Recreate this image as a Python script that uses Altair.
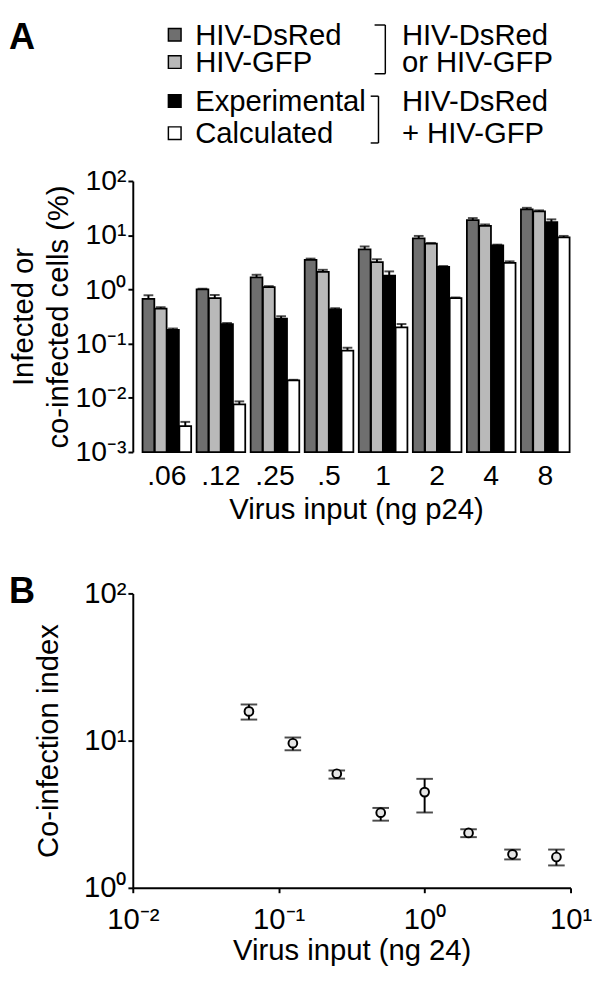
import altair as alt
import pandas as pd

FONT = "Liberation Sans"

# ---------------- Panel A data ----------------
doses = [".06", ".12", ".25", ".5", "1", "2", "4", "8"]
series = ["HIV-DsRed", "HIV-GFP", "Experimental", "Calculated"]
colors = ["#6f6f6f", "#b9b9b9", "#000000", "#ffffff"]

dsred = [0.67, 1.0, 1.66, 3.5, 5.5, 8.7, 19.0, 30.0]
gfp = [0.44, 0.69, 1.1, 2.1, 3.2, 7.0, 14.8, 27.6]
experimental = [0.18, 0.23, 0.29, 0.43, 1.8, 2.6, 6.5, 17.5]
calculated = [0.003, 0.0076, 0.021, 0.074, 0.20, 0.69, 3.1, 9.1]

dsred_hi = [0.78, 1.03, 1.86, 3.7, 6.2, 9.7, 20.7, 32.0]
gfp_hi = [0.47, 0.79, 1.15, 2.3, 3.6, 7.2, 15.8, 28.7]
experimental_hi = [0.19, 0.24, 0.32, 0.45, 2.15, 2.7, 6.7, 19.6]
calculated_hi = [0.0036, 0.0086, 0.0215, 0.084, 0.23, 0.71, 3.3, 9.7]

group_labels = [["HIV-DsRed", "or HIV-GFP"], ["HIV-DsRed", "+ HIV-GFP"]]

# ---------------- Panel B data ----------------
virus_input = [0.0625, 0.125, 0.25, 0.5, 1, 2, 4, 8]
coinf_index = [15.8, 9.6, 5.96, 3.24, 4.47, 2.36, 1.69, 1.62]
coinf_hi = [17.6, 10.5, 6.27, 3.49, 5.5, 2.5, 1.82, 1.82]
coinf_lo = [13.9, 8.6, 5.52, 2.86, 3.25, 2.21, 1.56, 1.42]

# ---------------- build tables ----------------
rows = []
for vals, his, name in zip([dsred, gfp, experimental, calculated],
                           [dsred_hi, gfp_hi, experimental_hi, calculated_hi], series):
    for d, v, h in zip(doses, vals, his):
        rows.append({"dose": d, "series": name, "value": v, "upper": h})
dfA = pd.DataFrame(rows)
dfB = pd.DataFrame({"x": virus_input, "y": coinf_index, "hi": coinf_hi, "lo": coinf_lo})

WA, HA = 458, 278
WB, HB = 449, 302

color_scale = alt.Scale(domain=series, range=colors)
sup = ("datum.value < 0.005 ? '10⁻³' : datum.value < 0.05 ? '10⁻²' : datum.value < 0.5 ? '10⁻¹' : "
       "datum.value < 5 ? '10⁰' : datum.value < 50 ? '10¹' : '10²'")

yA_scale = alt.Scale(type="log", domain=[0.001, 100])
xA = alt.X("dose:N", sort=doses,
           scale=alt.Scale(paddingInner=0.1, paddingOuter=0.18),
           axis=alt.Axis(title="Virus input (ng p24)", labelAngle=0, domain=False, ticks=False,
                         labelPadding=10, labelFontSize=29, titleY=44.5, titleBaseline="top"))
xoff = alt.XOffset("series:N", sort=series, scale=alt.Scale(paddingInner=0.04))
yA = alt.Y("value:Q", scale=yA_scale,
           axis=alt.Axis(values=[0.001, 0.01, 0.1, 1, 10, 100], labelExpr=sup,
                         title=["Infected or", "co-infected cells (%)"],
                         titleX=-103, titleY=HA / 2, titleAngle=-90, titleAlign="center",
                         titleBaseline="alphabetic", titleLineHeight=36,
                         tickSize=5, labelPadding=2, labelFontSize=29))

base = alt.Chart(dfA)
bars = base.mark_bar(stroke="black", strokeWidth=1.8).encode(
    x=xA, xOffset=xoff, y=yA, y2=alt.datum(0.001),
    fill=alt.Fill("series:N", scale=color_scale, legend=None))
stems = base.mark_rule(color="black", strokeWidth=2).encode(
    x=xA, xOffset=xoff, y=yA, y2="upper:Q")
caps = base.mark_tick(orient="horizontal", size=10, thickness=2, color="black").encode(
    x=xA, xOffset=xoff, y=alt.Y("upper:Q", scale=yA_scale))

# ---- custom legend (pixel positions relative to plot A origin) ----
one = pd.DataFrame({"k": [0]})
text_y = [-164, -136, -96, -63]
square_y = [-150, -122, -82, -49]
legend_layers = []
for name, ty, sy in zip(series, text_y, square_y):
    d = pd.DataFrame({"series": [name]})
    legend_layers.append(alt.Chart(d).mark_square(size=169, stroke="black", strokeWidth=1.5, opacity=1).encode(
        x=alt.value(43), y=alt.value(sy),
        fill=alt.Fill("series:N", scale=color_scale, legend=None)))
    legend_layers.append(alt.Chart(d).mark_text(align="left", baseline="top", fontSize=30,
                                                font=FONT, color="black").encode(
        x=alt.value(64), y=alt.value(ty), text="series:N"))

brackets = [(259, 248, -160, -110), (252, 244, -87, -39)]
for (bx, bx0, by0, by1), lines, (ya, yb) in zip(brackets, group_labels,
                                                [(text_y[0], text_y[1]), (text_y[2], text_y[3])]):
    legend_layers.append(alt.Chart(one).mark_rule(color="black", strokeWidth=1.5).encode(
        x=alt.value(bx), y=alt.value(by0), y2=alt.value(by1)))
    for yy in (by0, by1):
        legend_layers.append(alt.Chart(one).mark_rule(color="black", strokeWidth=1.5).encode(
            x=alt.value(bx0), x2=alt.value(bx), y=alt.value(yy)))
    for txt, yy in zip(lines, (ya, yb)):
        legend_layers.append(alt.Chart(one).mark_text(align="left", baseline="top", fontSize=30,
                                                      font=FONT, color="black", text=txt).encode(
            x=alt.value(276), y=alt.value(yy)))

letterA = alt.Chart(one).mark_text(align="left", baseline="top", fontSize=37, fontWeight="bold",
                                   font=FONT, color="black", text="A").encode(
    x=alt.value(-127), y=alt.value(-164))

panelA = alt.layer(bars, stems, caps, letterA, *legend_layers).properties(width=WA, height=HA)

# ---------------- Panel B ----------------
xB_scale = alt.Scale(type="log", domain=[0.01, 10])
yB_scale = alt.Scale(type="log", domain=[1, 100])
xB_axis = alt.Axis(values=[0.01, 0.1, 1, 10], labelExpr=
                   "datum.value < 0.05 ? '10⁻²' : datum.value < 0.5 ? '10⁻¹' : datum.value < 5 ? '10⁰' : '10¹'",
                   title="Virus input (ng 24)", tickSize=5, labelPadding=13, labelFontSize=30,
                   titleY=49, titleBaseline="top", labelFlush=False)
yB_axis = alt.Axis(values=[1, 10, 100], labelExpr="datum.value < 5 ? '10⁰' : datum.value < 50 ? '10¹' : '10²'",
                   title="Co-infection index", tickSize=5, labelPadding=2, labelFontSize=30,
                   titleX=-77, titleY=HB / 2, titleAngle=-90, titleAlign="center",
                   titleBaseline="alphabetic", labelFlush=False)

baseB = alt.Chart(dfB)
err = baseB.mark_rule(color="black", strokeWidth=2).encode(
    x=alt.X("x:Q", scale=xB_scale, axis=xB_axis),
    y=alt.Y("lo:Q", scale=yB_scale, axis=yB_axis), y2="hi:Q")
capHi = baseB.mark_tick(orient="horizontal", size=17, thickness=2, color="black").encode(
    x=alt.X("x:Q", scale=xB_scale), y=alt.Y("hi:Q", scale=yB_scale))
capLo = baseB.mark_tick(orient="horizontal", size=17, thickness=2, color="black").encode(
    x=alt.X("x:Q", scale=xB_scale), y=alt.Y("lo:Q", scale=yB_scale))
pts = baseB.mark_circle(size=80, color="#e6e6e6", stroke="black", strokeWidth=2, opacity=1).encode(
    x=alt.X("x:Q", scale=xB_scale), y=alt.Y("y:Q", scale=yB_scale))
letterB = alt.Chart(one).mark_text(align="left", baseline="top", fontSize=37, fontWeight="bold",
                                   font=FONT, color="black", text="B").encode(
    x=alt.value(-127), y=alt.value(-19))

panelB = alt.layer(err, capHi, capLo, pts, letterB).properties(width=WB, height=HB)

chart = alt.vconcat(panelA, panelB, spacing=50).properties(padding=0).configure(
    font=FONT
).configure_axis(
    labelFont=FONT, titleFont=FONT, titleFontSize=30,
    labelColor="black", titleColor="black", titleFontWeight="normal",
    grid=False, domainColor="black", tickColor="black", domainWidth=2, tickWidth=2
).configure_view(stroke=None)

chart.save("out.html", embed_options={"renderer": "svg", "actions": False})
